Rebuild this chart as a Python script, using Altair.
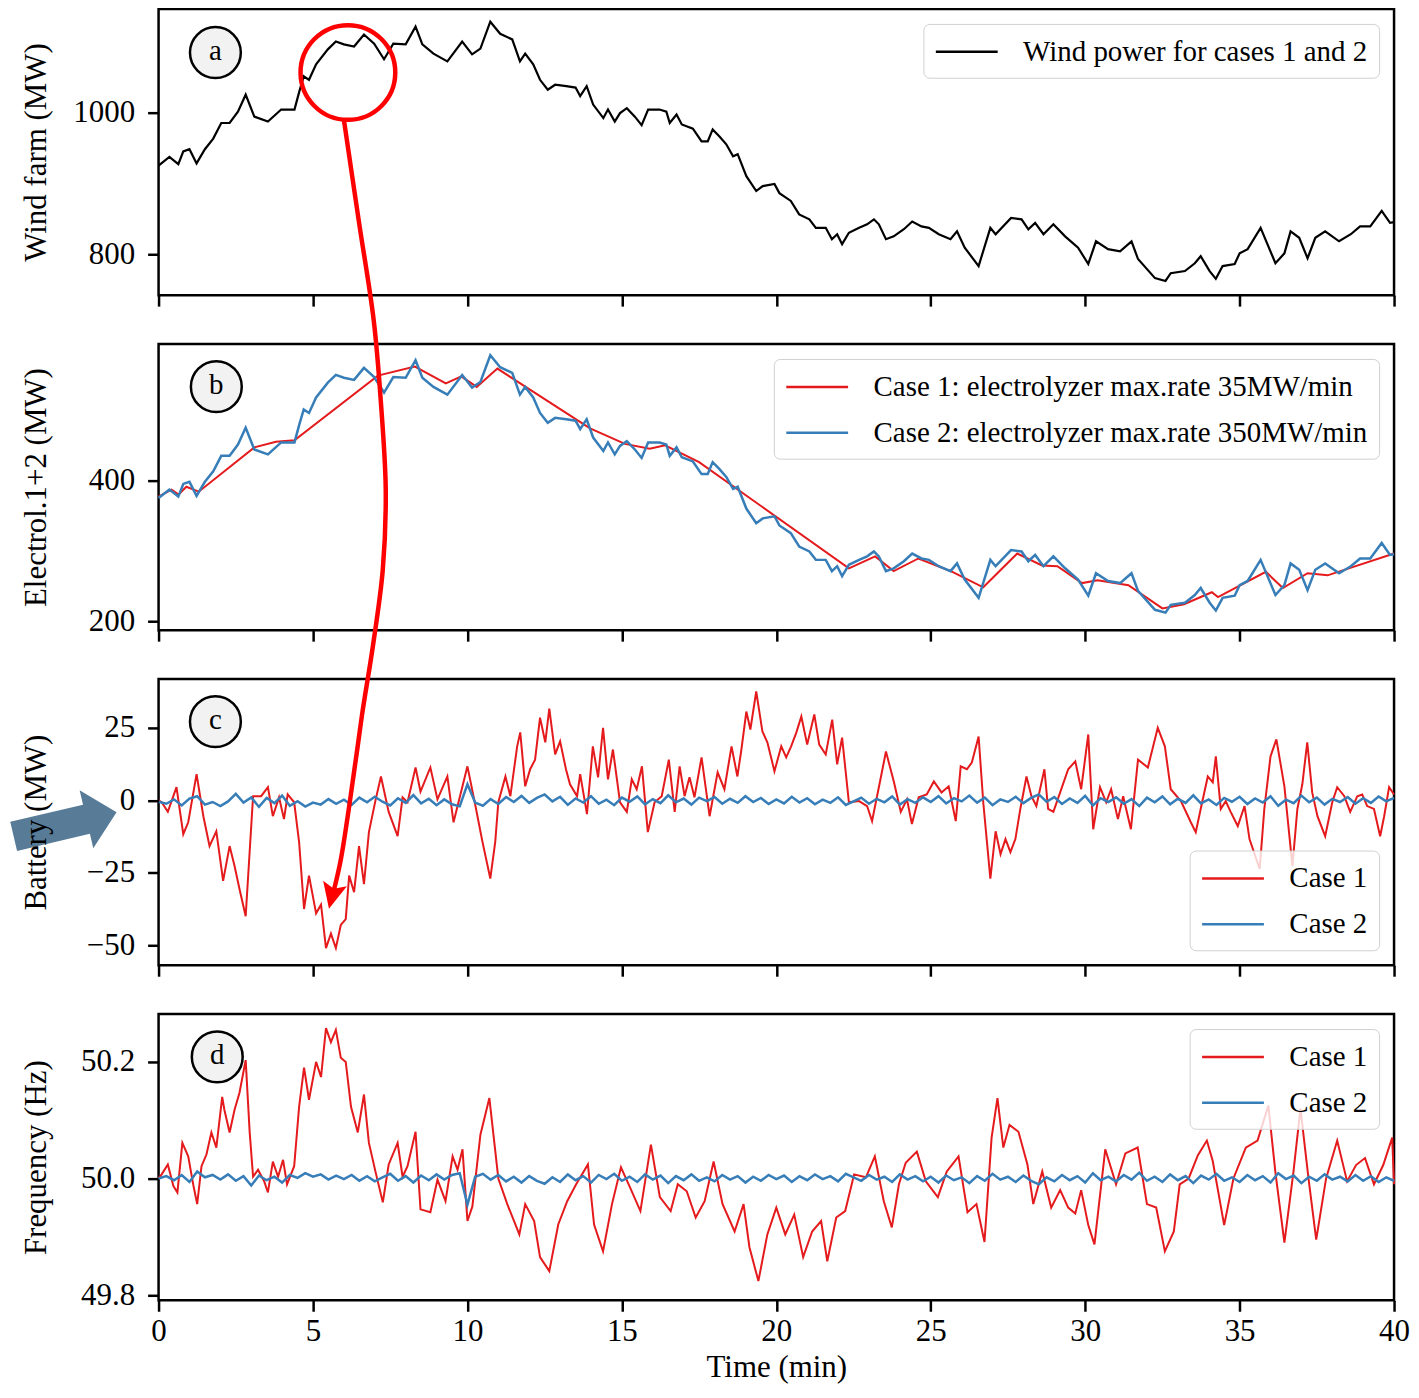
import altair as alt
import pandas as pd

FONT = "Liberation Serif"
RED = "#e41a1c"
BLUE = "#377eb8"
ANNOT_RED = "#ff0000"
ARROW_BLUE = "#587c98"
PW, PH = 1239, 287

# ---------------- data ----------------
x_ticks = [0, 5, 10, 15, 20, 25, 30, 35, 40]

LBL_WIND = "Wind power for cases 1 and 2"
LBL_E1 = "Case 1: electrolyzer max.rate 35MW/min"
LBL_E2 = "Case 2: electrolyzer max.rate 350MW/min"
LBL_C1 = "Case 1"
LBL_C2 = "Case 2"

wind_t = [0.0, 0.35, 0.64, 0.8, 1.0, 1.23, 1.5, 1.77, 2.03, 2.3,
          2.57, 2.82, 3.1, 3.54, 3.97, 4.4, 4.56, 4.7, 4.87, 5.1,
          5.48, 5.74, 6.0, 6.33, 6.65, 6.98, 7.3, 7.6, 8.0, 8.32,
          8.54, 8.9, 9.35, 9.83, 10.15, 10.42, 10.74, 11.06, 11.45, 11.7,
          11.87, 12.13, 12.35, 12.6, 12.84, 13.2, 13.5, 13.65, 13.86, 14.07,
          14.4, 14.55, 14.77, 14.94, 15.16, 15.42, 15.64, 15.85, 16.22, 16.44,
          16.55, 16.77, 16.94, 17.3, 17.58, 17.78, 17.94, 18.16, 18.38, 18.6,
          18.75, 19.03, 19.35, 19.56, 19.94, 20.1, 20.47, 20.74, 21.07, 21.28,
          21.6, 21.8, 21.97, 22.13, 22.35, 22.68, 22.94, 23.16, 23.32, 23.55,
          23.8, 24.13, 24.4, 24.7, 24.94, 25.26, 25.64, 25.85, 26.1, 26.55,
          26.93, 27.1, 27.6, 27.94, 28.16, 28.38, 28.65, 28.97, 29.35, 29.77,
          30.1, 30.35, 30.74, 31.13, 31.5, 31.71, 32.26, 32.6, 32.77, 33.23,
          33.55, 33.74, 34.03, 34.23, 34.45, 34.84, 35.0, 35.26, 35.68, 36.16,
          36.45, 36.65, 36.93, 37.2, 37.45, 37.77, 38.22, 38.6, 38.9, 39.23,
          39.6, 39.87, 40.0]
wind_mw = [925, 937, 927, 945, 948, 928, 948, 963, 985, 985,
           1001, 1025, 994, 987, 1004, 1004, 1030, 1051, 1046, 1068,
           1089, 1100, 1096, 1093, 1110, 1097, 1075, 1097, 1096, 1121,
           1096, 1083, 1072, 1100, 1082, 1090, 1128, 1111, 1103, 1072,
           1083, 1068, 1046, 1032, 1039, 1037, 1035, 1023, 1037, 1011,
           992, 1004, 987, 999, 1006, 994, 982, 1004, 1004, 1001,
           985, 997, 983, 977, 959, 959, 976, 966, 955, 938,
           941, 910, 889, 896, 899, 886, 875, 856, 849, 837,
           837, 821, 828, 814, 830, 837, 842, 849, 842, 821,
           825, 835, 846, 839, 837, 828, 821, 832, 809, 783,
           837, 828, 851, 849, 835, 844, 828, 842, 825, 809,
           786, 818, 807, 804, 818, 793, 766, 762, 773, 776,
           787, 797, 776, 765, 783, 786, 801, 807, 837, 787,
           801, 832, 823, 794, 823, 832, 818, 828, 839, 839,
           861, 844, 845]

# electrolyzer, case 2 (blue) at the same instants as the wind trace
elec2_mw = [375, 387, 377, 395, 398, 378, 398, 413, 435, 435,
            451, 475, 444, 437, 454, 454, 480, 501, 496, 518,
            539, 550, 546, 543, 560, 547, 525, 547, 546, 571,
            546, 533, 522, 550, 532, 540, 578, 561, 553, 522,
            533, 518, 496, 482, 489, 487, 485, 473, 487, 461,
            442, 454, 437, 449, 456, 444, 432, 454, 454, 451,
            435, 447, 433, 427, 409, 409, 426, 416, 405, 388,
            391, 360, 339, 346, 349, 336, 325, 306, 299, 287,
            287, 271, 278, 264, 280, 287, 292, 299, 292, 271,
            275, 285, 296, 289, 287, 278, 271, 282, 259, 233,
            287, 278, 301, 299, 285, 294, 278, 292, 275, 259,
            236, 268, 257, 254, 268, 243, 216, 212, 223, 226,
            237, 247, 226, 215, 233, 236, 251, 257, 287, 237,
            251, 282, 273, 244, 273, 282, 268, 278, 289, 289,
            311, 294, 295]

# electrolyzer, case 1 (red, ramp limited) vertices
elec1_t = [0.0, 0.42, 0.65, 0.9, 1.3, 3.1, 3.8, 4.4, 7.1, 8.3,
           9.3, 9.8, 10.3, 10.97, 13.97, 15.1, 15.9, 16.4, 17.5, 22.35,
           23.2, 23.8, 24.6, 25.7, 26.7, 27.8, 28.6, 29.1, 29.9, 30.4,
           31.4, 32.5, 33.2, 34.1, 34.3, 35.85, 36.4, 37.2, 37.85, 40.0]
elec1_mw = [377, 387, 380, 391, 384, 447, 455, 457, 549, 562,
            538, 548, 533, 559, 474, 452, 445, 450, 426, 275,
            292, 271, 289, 270, 248, 296, 279, 278, 254, 258,
            251, 218, 224, 241, 234, 270, 247, 268, 265, 296]

# battery, case 1
bat1_t = [0.0, 0.1, 0.3, 0.58, 0.8, 0.96, 1.23, 1.45, 1.65, 1.87,
          2.09, 2.3, 2.46, 2.62, 2.82, 3.06, 3.32, 3.54, 3.7, 3.9,
          4.06, 4.18, 4.39, 4.55, 4.71, 4.87, 5.1, 5.26, 5.42, 5.58,
          5.74, 5.9, 6.06, 6.17, 6.33, 6.49, 6.65, 6.81, 7.03, 7.2,
          7.45, 7.74, 7.9, 8.06, 8.32, 8.48, 8.8, 9.03, 9.35, 9.55,
          10.0, 10.26, 10.48, 10.74, 10.9, 11.0, 11.23, 11.39, 11.61, 11.71,
          11.87, 12.03, 12.19, 12.35, 12.52, 12.65, 12.84, 13.0, 13.19, 13.32,
          13.55, 13.65, 13.87, 14.06, 14.23, 14.39, 14.55, 14.71, 14.94, 15.16,
          15.32, 15.48, 15.65, 15.84, 16.06, 16.29, 16.52, 16.71, 16.87, 17.03,
          17.19, 17.35, 17.58, 17.84, 18.1, 18.32, 18.55, 18.74, 18.87, 19.03,
          19.16, 19.35, 19.55, 19.71, 19.94, 20.16, 20.32, 20.48, 20.65, 20.81,
          21.0, 21.23, 21.39, 21.6, 21.81, 21.97, 22.13, 22.35, 22.68, 22.94,
          23.1, 23.39, 23.55, 23.81, 24.03, 24.23, 24.39, 24.61, 24.87, 25.1,
          25.35, 25.58, 25.81, 25.97, 26.17, 26.33, 26.55, 26.7, 26.93, 27.1,
          27.26, 27.42, 27.58, 27.74, 27.9, 28.1, 28.26, 28.42, 28.68, 28.8,
          28.97, 29.19, 29.45, 29.68, 29.87, 30.1, 30.26, 30.48, 30.68, 30.84,
          31.06, 31.23, 31.48, 31.71, 32.03, 32.35, 32.58, 32.77, 33.1, 33.42,
          33.58, 33.74, 33.97, 34.13, 34.23, 34.39, 34.55, 34.71, 34.94, 35.16,
          35.32, 35.65, 35.8, 36.0, 36.19, 36.45, 36.71, 36.87, 37.03, 37.19,
          37.35, 37.52, 37.77, 38.0, 38.16, 38.39, 38.58, 38.81, 38.97, 39.13,
          39.35, 39.55, 39.68, 39.84, 40.0]
bat1_mw = [0, -0.7, -4, 4.5, -11.7, -7.6, 9, -5.5, -15.8, -10.7,
           -27.8, -15.8, -22.7, -30.6, -40, 1.4, 1.4, 4.5, -5.5, 1,
           -6.5, 2, -0.7, -14.4, -37.5, -26, -39, -36, -51, -46,
           -51, -43, -41, -26, -31.7, -15.8, -28.9, -11, 0.3, 8.2,
           -4, -12.4, 1, -0.7, 11.3, 3, 11.3, 0.3, 8.2, -7.6,
           11.7, -2, -14, -27, -14.4, -0.7, 8.2, 1.4, 18.6, 23.4,
           4.8, 10.7, 14, 28.5, 20, 31.6, 15.8, 20.3, 10.7, 5.5,
           1.4, 9, -4.8, 18.6, 7.9, 25, 7.2, 17.5, -0.7, -4,
           7.2, 3.8, 11.7, -11, -0.7, 1.4, 14, -4, 11.7, 1.4,
           7.9, 1, 14.8, -5.5, 9.6, 3.8, 18.6, 8.2, 17.5, 30.6,
           24.4, 37.5, 23.7, 20, 10, 18.6, 14.8, 18.6, 23.4, 28.9,
           19.2, 29.6, 19.2, 15.8, 27.8, 12.4, 21.6, -0.7, -0.3, -2,
           -7.2, 8.2, 16.8, 6.2, -4, 0.3, -8.2, 1, 2, 6.5,
           2.7, 4.8, -7.2, 11.7, 10.7, 13, 22, -0.7, -27, -10.7,
           -18.6, -13.4, -17.9, -13.4, -3, 8.2, 1.4, -2, 10.7, -3,
           -4, 2.7, 10.7, 13.4, 3.8, 22.7, -10, 4.5, -0.7, 3.8,
           -6.5, 1.4, -10, 14, 11.3, 25, 18.6, 3.8, -0.3, -7.6,
           -11, -3, 8.2, 6.2, 15.1, -3, -0.3, -4, -8.9, -2,
           -13.4, -23.7, -3, 15.1, 21, 4.8, -22.7, -3, 5.5, 20,
           2.7, -5.5, -12.4, -0.7, 4.5, 1.4, -4, 1.4, 2, -2,
           -3, -12.4, -5.5, 4.5, 2]

# case 2 traces sampled every 0.25 min
fine_t = [i * 0.25 for i in range(161)]
bat2_mw = [-0.5, -1.2, 0.3, -1.8, 0.6, 1.4, -1.5, -0.6,
           -2.0, -0.4, 2.2, -0.8, 1.0, -2.3, 0.8, -1.0,
           1.6, -1.9, -0.3, -2.2, -0.8, -1.5, 0.4, -1.2,
           0.2, -1.6, 0.9, -0.7, 1.2, -0.5, -1.8, 0.7,
           -0.9, 1.8, -1.1, 0.5, -1.7, 0.3, -1.4, -2.1,
           5.5, -0.8, -1.9, 0.4, -1.3, 1.1, -0.6, 1.5,
           -0.9, 0.8, 2.0, -0.4, 1.2, -1.6, 0.6, -0.8,
           1.4, -1.2, 0.2, -1.7, 0.9, -0.5, 1.3, -1.4,
           0.4, -1.0, 1.7, -0.7, 0.6, -1.5, 0.9, -0.3,
           1.1, -1.2, 0.5, -0.9, 1.4, -0.6, 0.8, -1.3,
           0.3, -1.1, 1.2, -0.8, 0.7, -1.4, 0.2, -0.9,
           1.0, -1.6, -0.4, 0.9, -1.2, 0.5, -0.7, 1.3,
           -1.5, 0.4, -0.9, 1.0, -0.6, 1.4, -1.1, 0.7,
           -0.4, 1.6, -0.8, 0.9, -1.7, 0.3, -0.6, 1.2,
           -1.0, 0.8, 2.0, -0.5, 1.1, -1.3, 0.6, -0.9,
           1.5, -1.8, 0.7, -0.6, 1.0, -1.2, 0.4, -2.0,
           0.9, -0.7, 1.3, -1.4, 0.5, -0.9, 1.7, -1.1,
           0.3, -1.6, 0.8, -0.5, 1.2, -1.3, 0.6, -0.8,
           1.4, -1.9, 0.2, -1.0, 1.6, -0.7, 0.9, -1.5,
           0.5, -0.6, 1.1, -1.2, 0.7, -0.9, 1.3, -0.4,
           0.8]

freq1_t = [0.0, 0.1, 0.3, 0.48, 0.61, 0.77, 0.96, 1.12, 1.25, 1.39,
           1.55, 1.71, 1.87, 2.06, 2.13, 2.3, 2.46, 2.62, 2.82, 2.95,
           3.06, 3.22, 3.42, 3.54, 3.7, 3.87, 4.03, 4.16, 4.39, 4.55,
           4.71, 4.87, 5.1, 5.26, 5.42, 5.58, 5.74, 5.9, 6.06, 6.23,
           6.45, 6.65, 6.81, 7.03, 7.26, 7.45, 7.74, 7.9, 8.06, 8.32,
           8.48, 8.8, 9.03, 9.29, 9.52, 9.68, 9.84, 10.0, 10.16, 10.42,
           10.71, 11.0, 11.29, 11.68, 11.87, 12.16, 12.35, 12.65, 12.94, 13.23,
           13.52, 13.9, 14.1, 14.39, 14.68, 14.97, 15.26, 15.6, 15.94, 16.23,
           16.58, 16.81, 17.1, 17.39, 17.68, 17.97, 18.26, 18.65, 18.94, 19.13,
           19.42, 19.71, 20.0, 20.29, 20.58, 20.87, 21.16, 21.45, 21.65, 21.94,
           22.23, 22.52, 22.9, 23.19, 23.48, 23.74, 23.97, 24.19, 24.55, 24.84,
           25.23, 25.52, 25.9, 26.19, 26.48, 26.74, 26.97, 27.16, 27.35, 27.55,
           27.84, 28.13, 28.32, 28.61, 28.9, 29.19, 29.45, 29.68, 29.87, 30.1,
           30.3, 30.65, 31.0, 31.3, 31.7, 32.0, 32.3, 32.58, 32.87, 33.06,
           33.35, 33.65, 33.94, 34.13, 34.5, 34.8, 35.2, 35.58, 35.93, 36.16,
           36.45, 36.74, 36.97, 37.23, 37.48, 37.8, 38.16, 38.48, 38.77, 39.06,
           39.35, 39.65, 39.94, 40.0]
freq1_hz = [50.0, 50.007, 50.024, 49.987, 49.976, 50.061, 50.038, 49.99, 49.956, 50.021,
            50.041, 50.079, 50.053, 50.14, 50.118, 50.079, 50.118, 50.147, 50.203, 50.079,
            50.003, 50.015, 49.995, 49.976, 50.029, 50.003, 50.032, 49.99, 50.021, 50.123,
            50.19, 50.135, 50.2, 50.174, 50.258, 50.234, 50.255, 50.207, 50.2, 50.123,
            50.079, 50.144, 50.061, 50.01, 49.959, 50.024, 50.061, 50.003, 50.021, 50.08,
            49.947, 49.942, 49.998, 49.961, 50.038, 50.015, 50.05, 49.927, 49.952, 50.075,
            50.138, 50.0, 49.956, 49.904, 49.956, 49.927, 49.865, 49.841, 49.921, 49.961,
            49.99, 50.024, 49.921, 49.875, 49.956, 50.019, 49.985, 49.944, 50.058, 49.968,
            49.944, 49.99, 49.978, 49.933, 49.961, 50.029, 49.956, 49.909, 49.956, 49.882,
            49.824, 49.904, 49.95, 49.904, 49.938, 49.865, 49.909, 49.927, 49.858, 49.933,
            49.944, 50.007, 50.002, 50.038, 49.961, 49.916, 49.99, 50.027, 50.046, 49.995,
            49.968, 50.012, 50.038, 49.942, 49.956, 49.891, 50.07, 50.138, 50.053, 50.092,
            50.08, 50.024, 49.956, 50.012, 49.95, 49.98, 49.95, 49.94, 49.98, 49.92,
            49.887, 50.05, 49.99, 50.043, 50.053, 49.956, 49.95, 49.875, 49.909, 49.99,
            50.0, 50.04, 50.065, 50.03, 49.92, 50.0, 50.053, 50.065, 50.125, 50.01,
            49.89, 50.01, 50.12, 50.0, 49.895, 50.0, 50.065, 49.995, 50.023, 50.035,
            49.99, 50.023, 50.07, 49.99]

freq2_hz = [50.000, 50.004, 49.997, 50.006, 49.994, 50.012, 50.002, 50.006,
            49.998, 50.007, 49.996, 50.004, 49.988, 50.005, 49.997, 50.003,
            49.993, 50.006, 50.001, 50.009, 50.003, 50.007, 49.998, 50.005,
            49.999, 50.006, 49.996, 50.004, 49.995, 50.002, 50.008, 49.996,
            50.004, 49.993, 50.005, 49.997, 50.007, 49.998, 50.006, 50.009,
            49.955, 50.003, 50.008, 49.998, 50.006, 49.995, 50.003, 49.993,
            50.004, 49.996, 49.991, 50.002, 49.994, 50.007, 49.997, 50.004,
            49.993, 50.006, 49.999, 50.008, 49.996, 50.003, 49.994, 50.007,
            49.998, 50.005, 49.992, 50.004, 49.997, 50.007, 49.996, 50.002,
            49.995, 50.006, 49.998, 50.004, 49.993, 50.003, 49.996, 50.006,
            49.999, 50.005, 49.994, 50.004, 49.997, 50.007, 49.999, 50.004,
            49.995, 50.008, 50.002, 49.996, 50.006, 49.998, 50.003, 49.994,
            50.007, 49.998, 50.004, 49.995, 50.003, 49.993, 50.005, 49.997,
            50.002, 49.992, 50.004, 49.996, 50.008, 49.998, 50.003, 49.994,
            50.005, 49.996, 49.990, 50.002, 49.995, 50.006, 49.997, 50.004,
            49.993, 50.009, 49.997, 50.003, 49.995, 50.006, 49.998, 50.010,
            49.996, 50.003, 49.994, 50.007, 49.997, 50.004, 49.992, 50.005,
            49.998, 50.008, 49.996, 50.002, 49.994, 50.006, 49.997, 50.004,
            49.993, 50.009, 49.999, 50.005, 49.992, 50.003, 49.996, 50.007,
            49.998, 50.003, 49.995, 50.006, 49.996, 50.004, 49.994, 50.002,
            49.996]

# ---------------- annotations (each in its panel's data units) ----------------
letters = ["a", "b", "c", "d"]
letter_t = [1.84, 1.87, 1.84, 1.90]
letter_v = [1084.5, 533.3, 27.1, 50.2085]

focus_t = [6.13]          # red circle in panel a
focus_v = [1056.3]

# red curved arrow, expressed in panel c units (runs up into panels b and a)
arrow_t = [6.0, 6.484, 6.968, 7.194, 7.355, 7.258, 6.935, 6.613, 6.387, 5.903, 5.645]
arrow_v = [234.7, 199.7, 165.3, 137.8, 106.9, 79.4, 52.9, 31.3, 14.1, -20.3, -32.3]
head_t = [5.632]
head_v = [-32.3]

# big grey-blue arrow pointing at the zero line of panel c
big_t = [-3.026]
big_v = [-8.28]

HEAD_PATH = "M0,-1L0.8,0.7L0,0.35L-0.8,0.7Z"
BIG_PATH = "M-1,-0.283L0.415,-0.283L0.415,-0.566L1,0L0.415,0.566L0.415,0.283L-1,0.283Z"
LEGEND_LINE = "M-1,0L3,0"

# ---------------- helpers ----------------
def xenc(bottom):
    if bottom:
        ax = alt.Axis(values=x_ticks, title="Time (min)", labelFlush=False,
                      labelPadding=5, titlePadding=6)
    else:
        ax = alt.Axis(values=x_ticks, title=None, labels=False)
    return alt.X("t:Q", scale=alt.Scale(domain=[0, 40], nice=False, zero=False), axis=ax)


def yenc(domain, ticks, title, fmt, z=0):
    return alt.Y("v:Q", scale=alt.Scale(domain=domain, nice=False, zero=False),
                 axis=alt.Axis(values=ticks, title=title, format=fmt, titleX=-122,
                               titleBaseline="middle", zindex=z))


def legend(orient):
    return alt.Legend(title=None, orient=orient, offset=15, padding=11,
                      fillColor="rgba(255,255,255,0.8)", strokeColor="#d0d0d0",
                      cornerRadius=6, symbolType=LEGEND_LINE, symbolSize=961,
                      symbolStrokeWidth=2.5, labelFont=FONT, labelFontSize=29,
                      labelColor="black", labelOffset=55, rowPadding=14, labelLimit=900)


def colenc(domain, rng, orient):
    return alt.Color("s:N", scale=alt.Scale(domain=domain, range=rng), legend=legend(orient))


def letter_layers(i, xe, ye):
    df = pd.DataFrame({"t": [letter_t[i]], "v": [letter_v[i]], "txt": [letters[i]]})
    circ = alt.Chart(df).mark_point(shape="circle", size=2601, filled=True, fill="#f2f2f2",
                                    stroke="black", strokeWidth=2.5, opacity=1).encode(x=xe, y=ye)
    txt = alt.Chart(df).mark_text(font=FONT, fontSize=29, color="black", baseline="middle",
                                  dy=-2).encode(x=xe, y=ye, text="txt:N")
    return [circ, txt]


# ---------------- panel a ----------------
xa = xenc(False)
ya = yenc([742, 1146], [800, 1000], "Wind farm (MW)", "d")
df_wind = pd.DataFrame({"t": wind_t, "v": wind_mw, "s": LBL_WIND})
wind_line = alt.Chart(df_wind).mark_line(strokeWidth=2.2).encode(
    x=xa, y=ya, color=colenc([LBL_WIND], ["black"], "top-right"))
df_focus = pd.DataFrame({"t": focus_t, "v": focus_v})
focus = alt.Chart(df_focus).mark_point(shape="circle", size=9025, filled=False, color=ANNOT_RED,
                                       strokeWidth=4.5, opacity=1).encode(x=xa, y=ya)
panel_a = alt.layer(wind_line, focus, *letter_layers(0, xa, ya)).properties(width=PW, height=PH)

# ---------------- panel b ----------------
xb = xenc(False)
yb = yenc([187, 594], [200, 400], "Electrol.1+2 (MW)", "d")
cb = colenc([LBL_E1, LBL_E2], [RED, BLUE], "top-right")
df_e1 = pd.DataFrame({"t": elec1_t, "v": elec1_mw, "s": LBL_E1})
df_e2 = pd.DataFrame({"t": wind_t, "v": elec2_mw, "s": LBL_E2})
e1 = alt.Chart(df_e1).mark_line(strokeWidth=2.0).encode(x=xb, y=yb, color=cb)
e2 = alt.Chart(df_e2).mark_line(strokeWidth=2.5).encode(x=xb, y=yb, color=cb)
panel_b = alt.layer(e1, e2, *letter_layers(1, xb, yb)).properties(width=PW, height=PH)

# ---------------- panel c ----------------
xc = xenc(False)
yc = yenc([-56.9, 41.8], [-50, -25, 0, 25], "Battery (MW)", "d", z=1)
cc = colenc([LBL_C1, LBL_C2], [RED, BLUE], "bottom-right")
df_b1 = pd.DataFrame({"t": bat1_t, "v": bat1_mw, "s": LBL_C1})
df_b2 = pd.DataFrame({"t": fine_t, "v": bat2_mw, "s": LBL_C2})
b1 = alt.Chart(df_b1).mark_line(strokeWidth=2.0).encode(x=xc, y=yc, color=cc)
b2 = alt.Chart(df_b2).mark_line(strokeWidth=2.5).encode(x=xc, y=yc, color=cc)
df_arrow = pd.DataFrame({"t": arrow_t, "v": arrow_v, "k": list(range(len(arrow_t)))})
arrow_line = alt.Chart(df_arrow).mark_line(color=ANNOT_RED, strokeWidth=4.5,
                                           interpolate="catmull-rom").encode(
    x=xc, y=yc, order="k:Q")
df_head = pd.DataFrame({"t": head_t, "v": head_v})
arrow_head = alt.Chart(df_head).mark_point(shape=HEAD_PATH, size=936, angle=193.5, filled=True,
                                           color=ANNOT_RED, opacity=1, strokeWidth=0).encode(x=xc, y=yc)
df_big = pd.DataFrame({"t": big_t, "v": big_v})
big_arrow = alt.Chart(df_big).mark_point(shape=BIG_PATH, size=11236, angle=346.8, filled=True,
                                         color=ARROW_BLUE, opacity=1, strokeWidth=0).encode(x=xc, y=yc)
panel_c = alt.layer(b1, b2, *letter_layers(2, xc, yc), big_arrow, arrow_line, arrow_head).properties(
    width=PW, height=PH)

# ---------------- panel d ----------------
xd = xenc(True)
yd = yenc([49.791, 50.282], [49.8, 50.0, 50.2], "Frequency (Hz)", ".1f")
cd = colenc([LBL_C1, LBL_C2], [RED, BLUE], "top-right")
df_f1 = pd.DataFrame({"t": freq1_t, "v": freq1_hz, "s": LBL_C1})
df_f2 = pd.DataFrame({"t": fine_t, "v": freq2_hz, "s": LBL_C2})
f1 = alt.Chart(df_f1).mark_line(strokeWidth=2.0).encode(x=xd, y=yd, color=cd)
f2 = alt.Chart(df_f2).mark_line(strokeWidth=2.5).encode(x=xd, y=yd, color=cd)
panel_d = alt.layer(f1, f2, *letter_layers(3, xd, yd)).properties(width=PW, height=PH)

chart = alt.vconcat(panel_a, panel_b, panel_c, panel_d, spacing=49, bounds="flush").resolve_scale(
    color="independent"
).properties(
    padding={"left": 0, "top": -3, "right": 0, "bottom": 0}
).configure_view(
    stroke="black", strokeWidth=2.5
).configure_axis(
    labelFont=FONT, labelFontSize=31, labelColor="black",
    titleFont=FONT, titleFontSize=31, titleFontWeight="normal", titleColor="black",
    tickColor="black", tickWidth=2.5, tickSize=11, domain=False, grid=False
).configure_axisY(
    labelPadding=13
).configure_legend(
    labelFont=FONT
)

chart.save("out.html", embed_options={"renderer": "svg", "actions": False})
